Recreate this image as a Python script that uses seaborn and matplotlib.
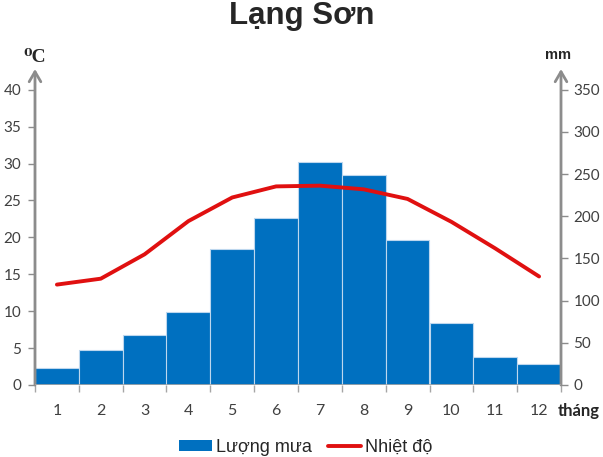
import numpy as np
import pandas as pd
import matplotlib
matplotlib.use("Agg")
import matplotlib.pyplot as plt
import seaborn as sns
from matplotlib.patches import Patch
from matplotlib.lines import Line2D

months = ["1", "2", "3", "4", "5", "6", "7", "8", "9", "10", "11", "12"]
rainfall_mm = [20, 42, 59, 87, 161, 198, 264, 249, 172, 73, 33, 25]
temperature_c = [13.6, 14.4, 17.7, 22.2, 25.4, 26.9, 27.0, 26.5, 25.2, 22.1, 18.5, 14.7]
temp_ticks = [0, 5, 10, 15, 20, 25, 30, 35, 40]
rain_ticks = [0, 50, 100, 150, 200, 250, 300, 350]

sns.set_theme(style="white")
plt.rcParams["font.family"] = ["Lato", "DejaVu Sans"]

fig = plt.figure(figsize=(6.03, 4.57), dpi=100)
ax_t = fig.add_axes([35 / 603, 72 / 457, 526 / 603, 316 / 457])
ax_r = ax_t.twinx()

df = pd.DataFrame({"month": months, "rain": rainfall_mm, "temp": temperature_c})

sns.barplot(data=df, x="month", y="rain", ax=ax_r, color="#0070C0", width=1.0,
            saturation=1, edgecolor="#BDD7EE", linewidth=0.8)
sns.lineplot(x=np.arange(len(months)), y=df["temp"], ax=ax_t, color="#E01010",
             linewidth=2.8)

ax_t.set_zorder(ax_r.get_zorder() + 1)
ax_t.patch.set_visible(False)

ax_t.set_xlim(-0.5, 11.5)
ax_r.set_xlim(-0.5, 11.5)
ax_t.set_ylim(0, 42.8)
ax_r.set_ylim(0, 42.8 * 8.75)

gray = "#8C8C8C"
label_color = "#404040"
for a in (ax_t, ax_r):
    for s in a.spines.values():
        s.set_visible(False)
    a.set_xlabel("")
    a.set_ylabel("")
    a.grid(False)

ax_t.set_yticks(temp_ticks)
ax_t.set_yticklabels([str(v) for v in temp_ticks])
ax_r.set_yticks(rain_ticks)
ax_r.set_yticklabels([str(v) for v in rain_ticks])
ax_t.tick_params(axis="y", left=True, length=5, width=1, color=gray, direction="out",
                 labelsize=11, labelcolor=label_color, pad=5)
ax_r.tick_params(axis="y", right=True, length=5, width=1, color=gray, direction="out",
                 labelsize=11, labelcolor=label_color, pad=4)

ax_t.set_xticks(np.arange(len(months)))
ax_t.set_xticklabels(months)
ax_t.set_xticks(np.arange(-0.5, 12, 1), minor=True)
ax_t.tick_params(axis="x", which="major", bottom=True, length=0, labelsize=11.5,
                 labelcolor=label_color, pad=14)
ax_t.tick_params(axis="x", which="minor", bottom=True, length=5, width=1, color="#A6A6A6",
                 direction="out")
ax_r.tick_params(axis="x", bottom=False, labelbottom=False)

ax_t.axhline(0, color="#A6A6A6", linewidth=1.2, zorder=5)

# axis lines with arrow heads
for xpos in (0, 1):
    ax_t.annotate("", xy=(xpos, 1.0), xytext=(xpos, 0.0), xycoords="axes fraction",
                  arrowprops=dict(arrowstyle="->,head_length=0.6,head_width=0.35",
                                  color=gray, lw=2.0, shrinkA=0, shrinkB=0),
                  annotation_clip=False)

fig.text(0.5, 0.965, "Lạng Sơn", ha="center", va="center", fontsize=22.5,
         fontweight="bold", family=["Liberation Sans", "DejaVu Sans"])
fig.text(35 / 603, 1 - 57 / 457, "⁰C", ha="center", va="center", fontsize=14,
         fontweight="bold", family=["Liberation Serif", "DejaVu Serif"])
fig.text(558 / 603, 1 - 55 / 457, "mm", ha="center", va="center", fontsize=10.5,
         fontweight="bold", family=["Liberation Sans", "DejaVu Sans"])
fig.text(579 / 603, 1 - 411 / 457, "tháng", ha="center", va="center", fontsize=12,
         fontweight="bold", color="#262626")

handles = [Patch(facecolor="#0070C0", edgecolor="none"),
           Line2D([0], [0], color="#E01010", linewidth=2.8)]
fig.legend(handles, ["Lượng mưa", "Nhiệt độ"], loc="center", bbox_to_anchor=(306 / 603, 1 - 447 / 457),
           ncol=2, frameon=False, handlelength=1.8, handleheight=0.55,
           handletextpad=0.25, columnspacing=0.9,
           prop={"family": ["Liberation Sans", "DejaVu Sans"], "size": 13})

fig.savefig("out.png", dpi=100)
